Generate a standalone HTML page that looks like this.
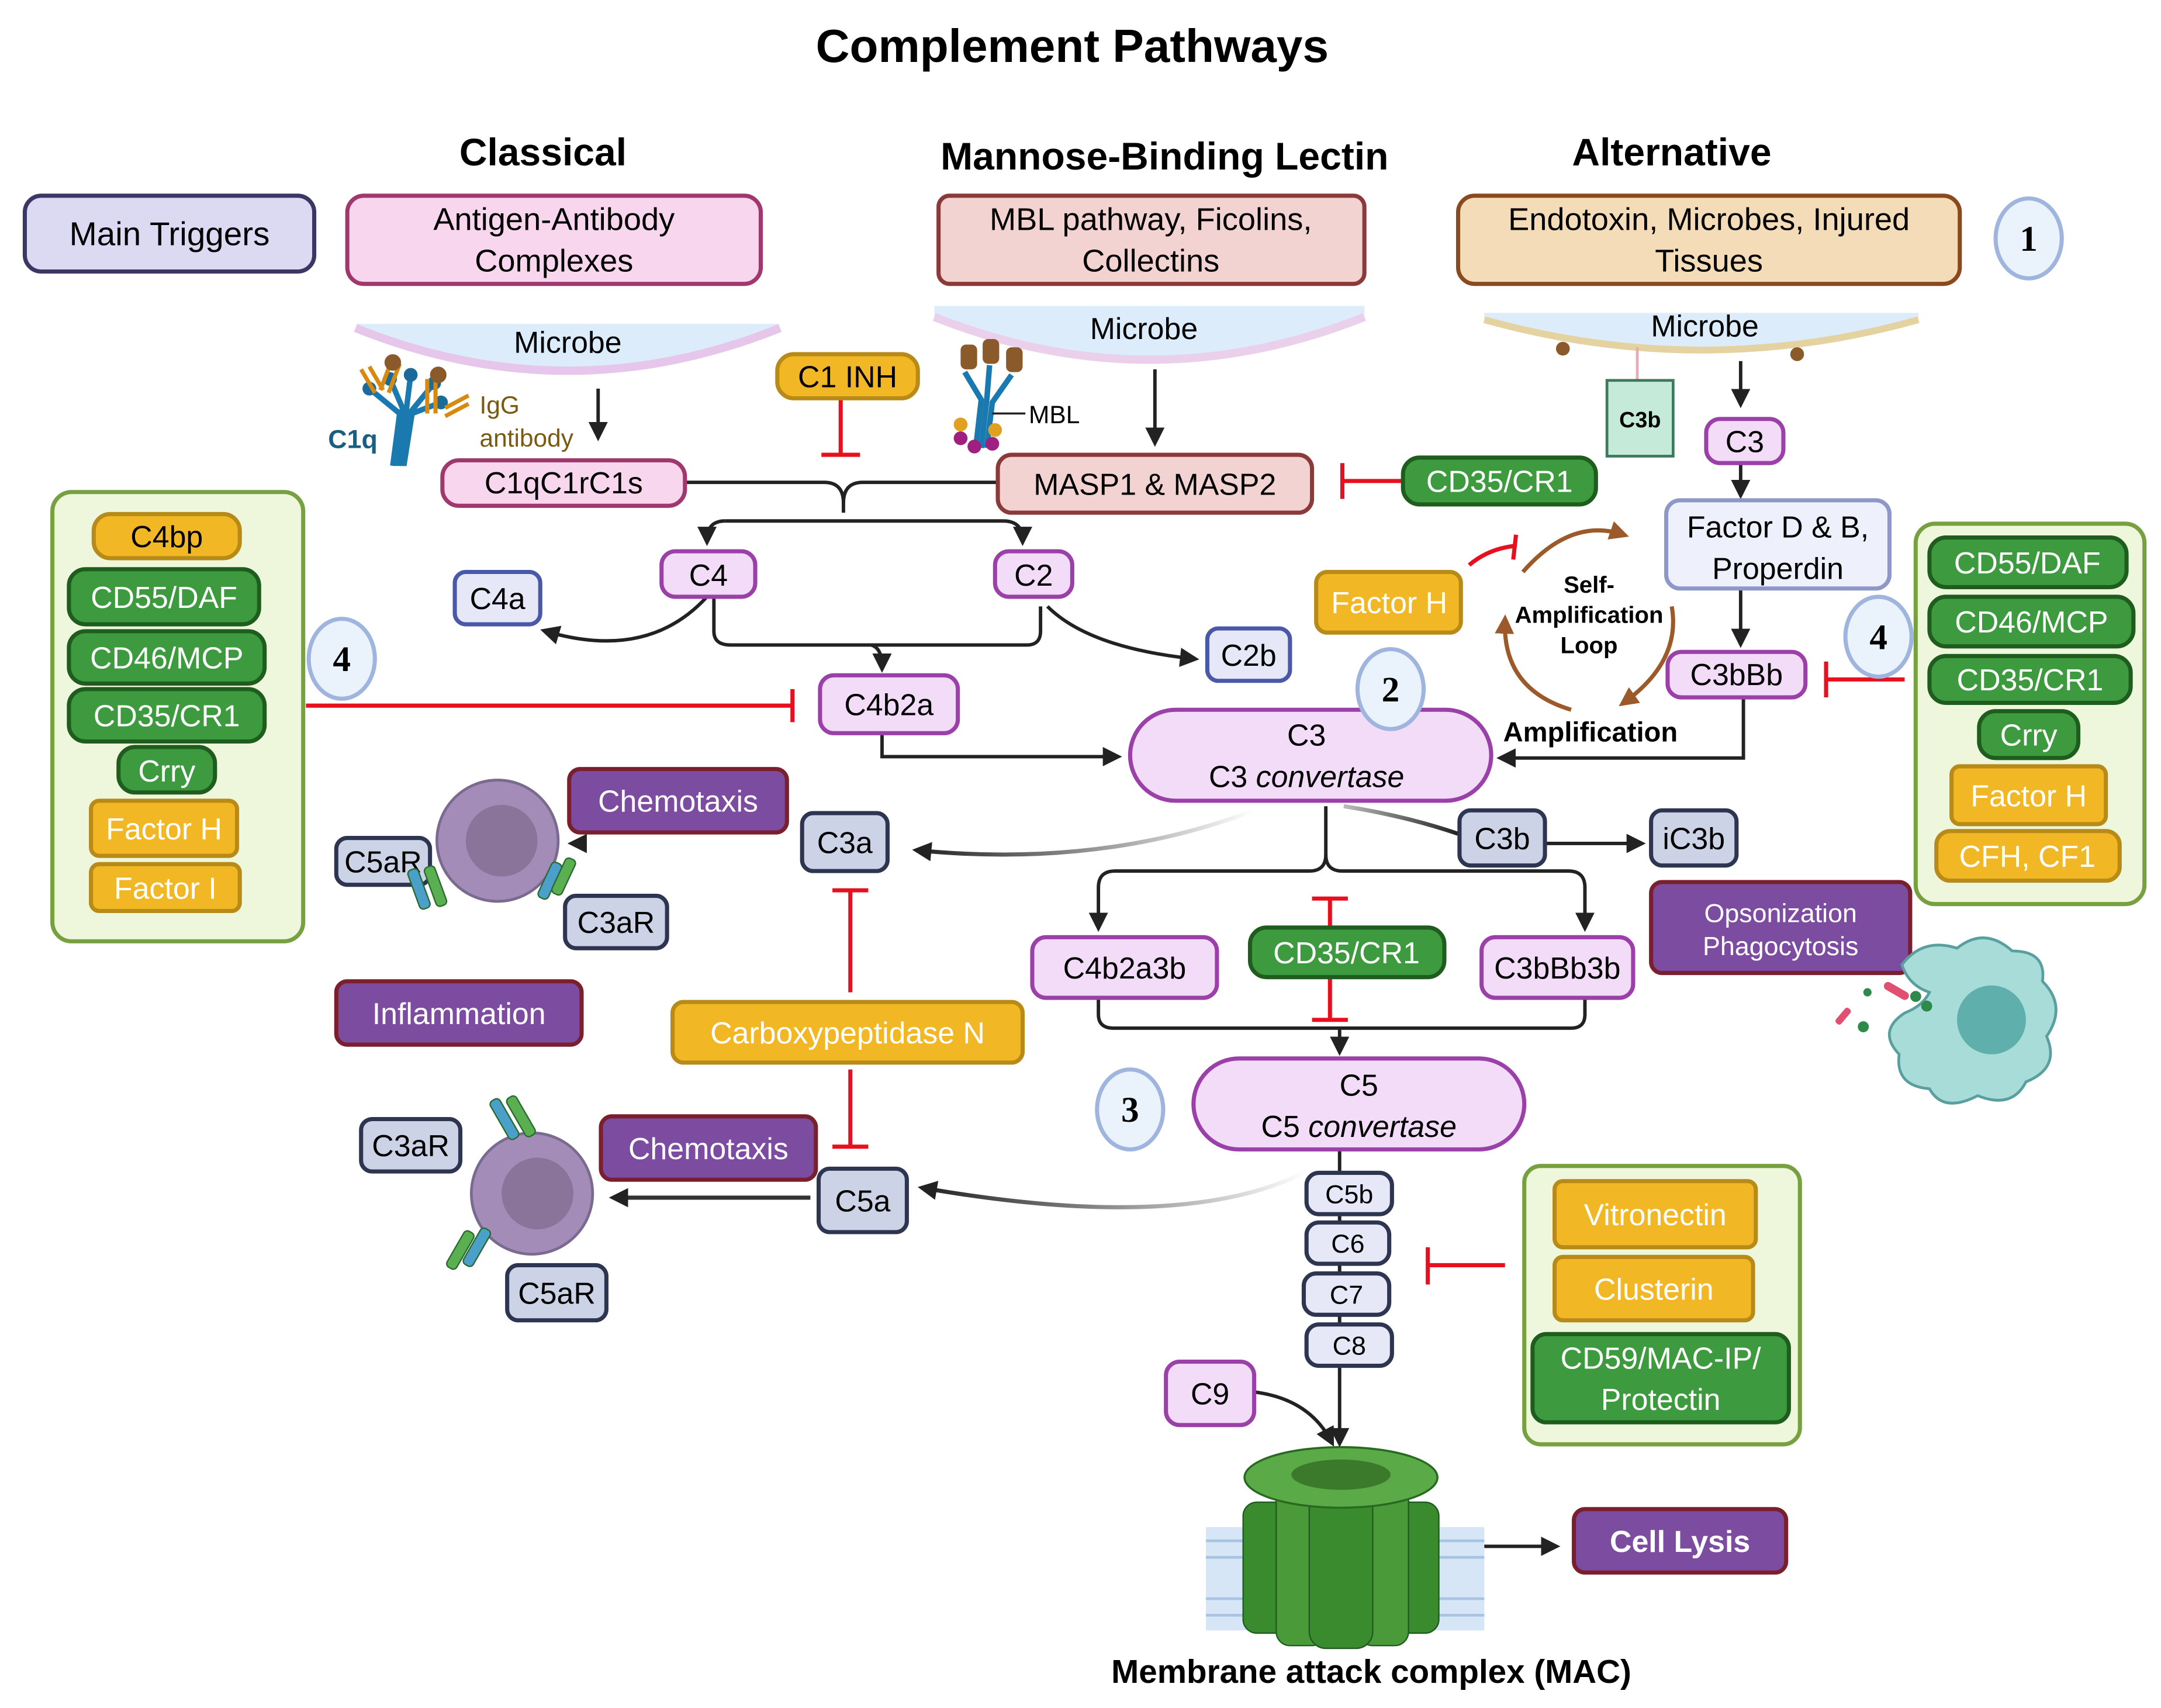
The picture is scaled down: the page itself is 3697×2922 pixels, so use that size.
<!DOCTYPE html>
<html><head><meta charset="utf-8"><style>
html,body{margin:0;padding:0;background:#fff}
svg{display:block}
text{font-family:"Liberation Sans",sans-serif}
</style></head><body>
<svg width="3697" height="2922" viewBox="0 0 1568 1239.3" preserveAspectRatio="none" xmlns="http://www.w3.org/2000/svg">
<defs>
<marker id="ab" viewBox="0 0 10 10" refX="7" refY="5" markerWidth="14" markerHeight="14" orient="auto" markerUnits="userSpaceOnUse"><path d="M0,0 L10,5 L0,10 z" fill="#222"/></marker>
<marker id="abr" viewBox="0 0 10 10" refX="7" refY="5" markerWidth="14" markerHeight="14" orient="auto" markerUnits="userSpaceOnUse"><path d="M0,0 L10,5 L0,10 z" fill="#9c5a2a"/></marker>
<linearGradient id="g1" x1="1" y1="0" x2="0" y2="0"><stop offset="0" stop-color="#fff"/><stop offset="1" stop-color="#222"/></linearGradient>
<linearGradient id="g2" x1="0" y1="0" x2="1" y2="0"><stop offset="0" stop-color="#bbb"/><stop offset="1" stop-color="#222"/></linearGradient>
</defs>
<g font-size="22" text-anchor="middle">
<text x="778" y="45" font-size="34" font-weight="bold">Complement Pathways</text>
<text x="394" y="120" font-size="28" font-weight="bold">Classical</text>
<text x="845" y="123" font-size="28" font-weight="bold">Mannose-Binding Lectin</text>
<text x="1213" y="120" font-size="28" font-weight="bold">Alternative</text>

<rect x="18" y="142" width="210" height="55" rx="12" fill="#dcdaf3" stroke="#3b3764" stroke-width="3"/>
<text x="123" y="178" font-size="24">Main Triggers</text>
<rect x="252" y="142" width="300" height="64" rx="12" fill="#f7d6ee" stroke="#a0386e" stroke-width="3"/>
<text x="402" y="167" font-size="23">Antigen-Antibody</text><text x="402" y="197" font-size="23">Complexes</text>
<rect x="681" y="142" width="309" height="64" rx="8" fill="#f2d3d1" stroke="#8b3a3a" stroke-width="3"/>
<text x="835" y="167" font-size="23">MBL pathway, Ficolins,</text><text x="835" y="197" font-size="23">Collectins</text>
<rect x="1058" y="142" width="364" height="64" rx="12" fill="#f5dcb8" stroke="#8b4a1e" stroke-width="3"/>
<text x="1240" y="167" font-size="23">Endotoxin, Microbes, Injured</text><text x="1240" y="197" font-size="23">Tissues</text>

<path d="M258,235 Q412,300 566,235 Z" fill="#dcecfb"/>
<path d="M258,238 Q412,300 566,238" fill="none" stroke="#e6c6ea" stroke-width="6"/>
<text x="412" y="256">Microbe</text>
<path d="M678,222 L990,222 L990,230 Q834,290 678,230 Z" fill="#dcecfb"/>
<path d="M678,230 Q834,292 990,230" fill="none" stroke="#ead0ea" stroke-width="6"/>
<text x="830" y="246">Microbe</text>
<path d="M1077,227 L1392,227 L1392,232 Q1235,275 1077,232 Z" fill="#dcecfb"/>
<path d="M1077,232 Q1235,276 1392,232" fill="none" stroke="#e4d3a0" stroke-width="5"/>
<circle cx="1134" cy="253" r="5" fill="#8b5a2b"/><circle cx="1304" cy="257" r="5" fill="#8b5a2b"/>
<text x="1237" y="244">Microbe</text>
<line x1="1188" y1="252" x2="1188" y2="276" stroke="#e8aab5" stroke-width="2"/>
<rect x="1166" y="276" width="48" height="55" fill="#c5eada" stroke="#3b7a5a" stroke-width="2"/>
<text x="1190" y="310" font-size="16" font-weight="bold">C3b</text>

<g stroke="#1a7ab0" stroke-width="4" fill="none"><path d="M285,338 L290,300 L268,282"/><path d="M287,338 L292,296 L283,275"/><path d="M289,338 L295,296 L298,272"/><path d="M291,338 L297,300 L315,278"/><path d="M293,338 L299,300 L320,292"/></g>
<g fill="#1a6a9a"><circle cx="268" cy="282" r="5"/><circle cx="283" cy="275" r="5"/><circle cx="298" cy="272" r="5"/><circle cx="315" cy="278" r="5"/><circle cx="320" cy="292" r="5"/></g>
<g stroke="#d88a10" stroke-width="3"><path d="M262,268 L272,285 M268,266 L278,283 M284,262 L276,283 M290,264 L282,285 M310,275 L310,300 M316,275 L316,300 M323,296 L340,287 M323,302 L340,293"/></g>
<circle cx="285" cy="263" r="6" fill="#8b5a2b"/><circle cx="318" cy="272" r="6" fill="#8b5a2b"/>
<text x="256" y="325" font-size="19" font-weight="bold" fill="#1a5f80">C1q</text>
<text x="348" y="300" font-size="18" fill="#7a5a10" text-anchor="start">IgG</text>
<text x="348" y="324" font-size="18" fill="#7a5a10" text-anchor="start">antibody</text>
<g stroke="#1a7ab0" stroke-width="4" fill="none"><path d="M708,325 L712,290 L700,270"/><path d="M712,325 L716,290 L718,265"/><path d="M716,325 L720,292 L734,272"/></g>
<g fill="#8b5a2b"><rect x="697" y="250" width="12" height="18" rx="4"/><rect x="713" y="246" width="12" height="18" rx="4"/><rect x="730" y="252" width="12" height="18" rx="4"/></g>
<g fill="#a02080"><circle cx="697" cy="318" r="5"/><circle cx="707" cy="324" r="5"/><circle cx="720" cy="322" r="5"/></g>
<g fill="#e0a020"><circle cx="697" cy="308" r="5"/><circle cx="722" cy="312" r="5"/></g>
<line x1="720" y1="300" x2="744" y2="300" stroke="#222" stroke-width="1.5"/>
<text x="765" y="307" font-size="18">MBL</text>

<g stroke="#222" stroke-width="2.5" fill="none">
<line x1="434" y1="282" x2="434" y2="316" marker-end="url(#ab)"/>
<line x1="838" y1="268" x2="838" y2="320" marker-end="url(#ab)"/>
<line x1="1263" y1="262" x2="1263" y2="292" marker-end="url(#ab)"/>
<line x1="1263" y1="336" x2="1263" y2="358" marker-end="url(#ab)"/>
<line x1="1263" y1="427" x2="1263" y2="466" marker-end="url(#ab)"/>
<path d="M497,350 L598,350 Q612,350 612,365 L612,372"/>
<path d="M724,350 L626,350 Q612,350 612,365"/>
<path d="M526,378 L728,378" />
<path d="M526,378 Q513,378 513,392" marker-end="url(#ab)"/>
<path d="M728,378 Q742,378 742,392" marker-end="url(#ab)"/>
<path d="M513,433 Q470,480 396,458" marker-end="url(#ab)"/>
<path d="M760,440 Q790,470 866,478" marker-end="url(#ab)"/>
<path d="M518,433 L518,458 Q518,468 530,468 L745,468 Q755,468 755,458 L755,440"/>
<path d="M632,468 Q640,470 640,484" marker-end="url(#ab)"/>
<path d="M640,532 L640,549 L810,549" marker-end="url(#ab)"/>
<path d="M1265,505 L1265,550 L1090,550" marker-end="url(#ab)"/>
<path d="M962,585 L962,620 Q962,632 950,632 L809,632 Q797,632 797,644 L797,672" marker-end="url(#ab)"/>
<path d="M962,620 Q962,632 974,632 L1138,632 Q1150,632 1150,644 L1150,672" marker-end="url(#ab)"/>
<line x1="1121" y1="612" x2="1190" y2="612" marker-end="url(#ab)"/>
<path d="M797,724 L797,736 Q797,746 808,746 L1140,746 Q1150,746 1150,736 L1150,724"/>
<line x1="972" y1="746" x2="972" y2="762" marker-end="url(#ab)"/>
<line x1="972" y1="834" x2="972" y2="1046" marker-end="url(#ab)"/>
<path d="M910,1010 Q950,1015 966,1046" marker-end="url(#ab)"/>
<line x1="1062" y1="1122" x2="1128" y2="1122" marker-end="url(#ab)"/>
</g>
<g fill="none" stroke-width="3">
<path d="M910,588 Q800,630 666,617" stroke="url(#g1)" marker-end="url(#ab)"/>
<path d="M975,585 Q1020,592 1058,605" stroke="url(#g2)"/>
<path d="M575,612 L416,612" stroke="url(#g2)" marker-end="url(#ab)"/>
<path d="M588,869 L446,869" stroke="#333" marker-end="url(#ab)"/>
<path d="M948,850 Q860,895 670,862" stroke="url(#g1)" marker-end="url(#ab)"/>
</g>

<g stroke="#e8101e" stroke-width="3" fill="none">
<line x1="610" y1="289" x2="610" y2="330"/><line x1="596" y1="330" x2="624" y2="330"/>
<line x1="1018" y1="349" x2="974" y2="349"/><line x1="974" y1="336" x2="974" y2="362"/>
<line x1="222" y1="512" x2="575" y2="512"/><line x1="575" y1="500" x2="575" y2="524"/>
<line x1="1382" y1="493" x2="1325" y2="493"/><line x1="1325" y1="480" x2="1325" y2="506"/>
<path d="M1066,410 Q1080,398 1100,396"/><line x1="1100" y1="388" x2="1098" y2="406"/>
<line x1="617" y1="646" x2="617" y2="720"/><line x1="604" y1="646" x2="630" y2="646"/>
<line x1="617" y1="776" x2="617" y2="832"/><line x1="604" y1="832" x2="630" y2="832"/>
<line x1="965" y1="673" x2="965" y2="652"/><line x1="952" y1="652" x2="978" y2="652"/>
<line x1="965" y1="709" x2="965" y2="740"/><line x1="952" y1="740" x2="978" y2="740"/>
<line x1="1092" y1="918" x2="1036" y2="918"/><line x1="1036" y1="905" x2="1036" y2="932"/>
</g>
<g fill="none" stroke="#9c5a2a" stroke-width="3">
<path d="M1105,415 Q1140,375 1178,388" marker-end="url(#abr)"/>
<path d="M1213,440 Q1220,480 1178,510" marker-end="url(#abr)"/>
<path d="M1140,515 Q1090,500 1092,450" marker-end="url(#abr)"/>
</g>
<g font-weight="bold" font-size="17"><text x="1153" y="430">Self-</text><text x="1153" y="452">Amplification</text><text x="1153" y="474">Loop</text></g>
<text x="1154" y="538" font-weight="bold" font-size="20">Amplification</text>

<rect x="38" y="357" width="182" height="326" rx="14" fill="#eef6dc" stroke="#77a040" stroke-width="3"/>
<rect x="1390" y="380" width="166" height="276" rx="14" fill="#eef6dc" stroke="#77a040" stroke-width="3"/>
<rect x="1106" y="846" width="200" height="202" rx="12" fill="#eef6dc" stroke="#77a040" stroke-width="3"/>

<g stroke-width="3">
<rect x="321" y="334" width="176" height="33" rx="12" fill="#f7d6ee" stroke="#a0386e"/>
<rect x="724" y="330" width="228" height="42" rx="10" fill="#f2d3d1" stroke="#8b3a3a"/>
<rect x="564" y="257" width="102" height="32" rx="12" fill="#f2b724" stroke="#b88a18"/>
<rect x="1018" y="332" width="140" height="34" rx="12" fill="#3e9a3e" stroke="#1f5d1f"/>
<rect x="1238" y="304" width="56" height="32" rx="10" fill="#f3dcf7" stroke="#9a40a8"/>
<rect x="1209" y="363" width="162" height="64" rx="10" fill="#eef0fb" stroke="#8d98c8"/>
<rect x="1210" y="473" width="100" height="33" rx="10" fill="#f3dcf7" stroke="#9a40a8"/>
<rect x="955" y="415" width="105" height="44" rx="8" fill="#f2b724" stroke="#b88a18"/>
<rect x="480" y="400" width="68" height="33" rx="10" fill="#f3dcf7" stroke="#9a40a8"/>
<rect x="722" y="400" width="56" height="33" rx="10" fill="#f3dcf7" stroke="#9a40a8"/>
<rect x="330" y="415" width="62" height="38" rx="8" fill="#e6e8f8" stroke="#4a58a8"/>
<rect x="876" y="456" width="60" height="38" rx="8" fill="#e6e8f8" stroke="#4a58a8"/>
<rect x="595" y="490" width="100" height="42" rx="10" fill="#f3dcf7" stroke="#9a40a8"/>
<rect x="820" y="515" width="262" height="66" rx="33" fill="#f3dcf7" stroke="#9a40a8"/>
<rect x="1059" y="588" width="62" height="40" rx="8" fill="#cdd3e6" stroke="#2e3550"/>
<rect x="1198" y="588" width="62" height="40" rx="8" fill="#cdd3e6" stroke="#2e3550"/>
<rect x="582" y="590" width="62" height="42" rx="8" fill="#cdd3e6" stroke="#2e3550"/>
<rect x="413" y="558" width="158" height="46" rx="8" fill="#7b4ca0" stroke="#7a1f2e"/>
<rect x="244" y="608" width="68" height="34" rx="8" fill="#cdd3e6" stroke="#2e3550"/>
<rect x="410" y="650" width="74" height="38" rx="8" fill="#cdd3e6" stroke="#2e3550"/>
<rect x="244" y="712" width="178" height="46" rx="8" fill="#7b4ca0" stroke="#7a1f2e"/>
<rect x="488" y="727" width="254" height="44" rx="8" fill="#f2b724" stroke="#b88a18"/>
<rect x="749" y="680" width="134" height="44" rx="10" fill="#f3dcf7" stroke="#9a40a8"/>
<rect x="907" y="673" width="141" height="36" rx="12" fill="#3e9a3e" stroke="#1f5d1f"/>
<rect x="1075" y="680" width="110" height="44" rx="10" fill="#f3dcf7" stroke="#9a40a8"/>
<rect x="866" y="768" width="240" height="66" rx="33" fill="#f3dcf7" stroke="#9a40a8"/>
<rect x="1198" y="640" width="188" height="66" rx="8" fill="#7b4ca0" stroke="#7a1f2e"/>
<rect x="436" y="810" width="156" height="46" rx="8" fill="#7b4ca0" stroke="#7a1f2e"/>
<rect x="262" y="812" width="72" height="38" rx="8" fill="#cdd3e6" stroke="#2e3550"/>
<rect x="368" y="918" width="72" height="40" rx="8" fill="#cdd3e6" stroke="#2e3550"/>
<rect x="594" y="848" width="64" height="46" rx="8" fill="#cdd3e6" stroke="#2e3550"/>
<rect x="948" y="851" width="62" height="30" rx="9" fill="#e6e8f8" stroke="#2e3550"/>
<rect x="948" y="887" width="60" height="30" rx="9" fill="#e6e8f8" stroke="#2e3550"/>
<rect x="946" y="924" width="62" height="30" rx="9" fill="#e6e8f8" stroke="#2e3550"/>
<rect x="948" y="961" width="62" height="30" rx="9" fill="#e6e8f8" stroke="#2e3550"/>
<rect x="846" y="988" width="64" height="46" rx="10" fill="#f3dcf7" stroke="#9a40a8"/>
<rect x="1128" y="857" width="146" height="48" rx="6" fill="#f2b724" stroke="#b88a18"/>
<rect x="1128" y="912" width="144" height="46" rx="6" fill="#f2b724" stroke="#b88a18"/>
<rect x="1112" y="968" width="186" height="64" rx="10" fill="#3e9a3e" stroke="#1f5d1f"/>
<rect x="1142" y="1095" width="154" height="46" rx="8" fill="#7b4ca0" stroke="#7a1f2e"/>
<rect x="68" y="373" width="106" height="32" rx="12" fill="#f2b724" stroke="#b88a18"/>
<rect x="50" y="413" width="138" height="40" rx="12" fill="#3e9a3e" stroke="#1f5d1f"/>
<rect x="50" y="458" width="142" height="38" rx="12" fill="#3e9a3e" stroke="#1f5d1f"/>
<rect x="50" y="500" width="142" height="38" rx="12" fill="#3e9a3e" stroke="#1f5d1f"/>
<rect x="86" y="542" width="70" height="33" rx="12" fill="#3e9a3e" stroke="#1f5d1f"/>
<rect x="66" y="581" width="106" height="40" rx="6" fill="#f2b724" stroke="#b88a18"/>
<rect x="66" y="627" width="108" height="34" rx="6" fill="#f2b724" stroke="#b88a18"/>
<rect x="1400" y="390" width="143" height="36" rx="12" fill="#3e9a3e" stroke="#1f5d1f"/>
<rect x="1400" y="433" width="148" height="36" rx="12" fill="#3e9a3e" stroke="#1f5d1f"/>
<rect x="1400" y="476" width="146" height="34" rx="12" fill="#3e9a3e" stroke="#1f5d1f"/>
<rect x="1436" y="516" width="72" height="34" rx="12" fill="#3e9a3e" stroke="#1f5d1f"/>
<rect x="1416" y="556" width="112" height="42" rx="6" fill="#f2b724" stroke="#b88a18"/>
<rect x="1405" y="603" width="133" height="36" rx="10" fill="#f2b724" stroke="#b88a18"/>
</g>

<g fill="#eaf2fc" stroke="#9fb5de" stroke-width="3">
<ellipse cx="1472" cy="173" rx="24" ry="29"/><ellipse cx="248" cy="478" rx="24" ry="29"/>
<ellipse cx="1009" cy="500" rx="24" ry="29"/><ellipse cx="1363" cy="462" rx="24" ry="29"/>
<ellipse cx="820" cy="805" rx="24" ry="29"/></g>
<g font-weight="bold" font-size="26">
<text x="1472" y="182" style="font-family:'Liberation Serif',serif">1</text><text x="248" y="487" style="font-family:'Liberation Serif',serif">4</text>
<text x="1009" y="509" style="font-family:'Liberation Serif',serif">2</text><text x="1363" y="471" style="font-family:'Liberation Serif',serif">4</text>
<text x="820" y="814" style="font-family:'Liberation Serif',serif">3</text></g>

<text x="409" y="358">C1qC1rC1s</text>
<text x="838" y="359">MASP1 &amp; MASP2</text>
<text x="615" y="281">C1 INH</text>
<text x="1088" y="357" fill="#fff">CD35/CR1</text>
<text x="1266" y="328">C3</text>
<text x="1290" y="390">Factor D &amp; B,</text><text x="1290" y="420">Properdin</text>
<text x="1260" y="497">C3bBb</text>
<text x="1008" y="445" fill="#fff">Factor H</text>
<text x="514" y="425">C4</text><text x="750" y="425">C2</text>
<text x="361" y="442">C4a</text><text x="906" y="483">C2b</text>
<text x="645" y="519">C4b2a</text>
<text x="948" y="541">C3</text>
<text x="948" y="571">C3 <tspan font-style="italic">convertase</tspan></text>
<text x="1090" y="616">C3b</text><text x="1229" y="616">iC3b</text>
<text x="613" y="619">C3a</text>
<text x="492" y="589" fill="#fff">Chemotaxis</text>
<text x="278" y="633">C5aR</text><text x="447" y="677">C3aR</text>
<text x="333" y="743" fill="#fff">Inflammation</text>
<text x="615" y="757" fill="#fff">Carboxypeptidase N</text>
<text x="816" y="710">C4b2a3b</text>
<text x="977" y="699" fill="#fff">CD35/CR1</text>
<text x="1130" y="710">C3bBb3b</text>
<text x="986" y="795">C5</text>
<text x="986" y="825">C5 <tspan font-style="italic">convertase</tspan></text>
<text x="1292" y="669" fill="#fff" font-size="19">Opsonization</text>
<text x="1292" y="693" fill="#fff" font-size="19">Phagocytosis</text>
<text x="514" y="841" fill="#fff">Chemotaxis</text>
<text x="298" y="839">C3aR</text><text x="404" y="946">C5aR</text>
<text x="626" y="879">C5a</text>
<g font-size="19"><text x="979" y="873">C5b</text><text x="978" y="909">C6</text><text x="977" y="946">C7</text><text x="979" y="983">C8</text></g>
<text x="878" y="1019">C9</text>
<text x="1201" y="889" fill="#fff">Vitronectin</text>
<text x="1200" y="943" fill="#fff">Clusterin</text>
<text x="1205" y="993" fill="#fff">CD59/MAC-IP/</text><text x="1205" y="1023" fill="#fff">Protectin</text>
<text x="1219" y="1126" fill="#fff" font-weight="bold">Cell Lysis</text>
<text x="121" y="397">C4bp</text>
<text x="119" y="441" fill="#fff">CD55/DAF</text>
<text x="121" y="485" fill="#fff">CD46/MCP</text>
<text x="121" y="527" fill="#fff">CD35/CR1</text>
<text x="121" y="567" fill="#fff">Crry</text>
<text x="119" y="609" fill="#fff">Factor H</text>
<text x="120" y="652" fill="#fff">Factor I</text>
<text x="1471" y="416" fill="#fff">CD55/DAF</text>
<text x="1474" y="459" fill="#fff">CD46/MCP</text>
<text x="1473" y="501" fill="#fff">CD35/CR1</text>
<text x="1472" y="541" fill="#fff">Crry</text>
<text x="1472" y="585" fill="#fff">Factor H</text>
<text x="1471" y="629" fill="#fff">CFH, CF1</text>

<circle cx="361" cy="610" r="44" fill="#a48cb8" stroke="#7a6a90" stroke-width="2"/>
<circle cx="364" cy="610" r="26" fill="#8a7499"/>
<g fill="#4aa0c8" stroke="#2a6a30" stroke-width="1"><rect x="300" y="630" width="8" height="30" rx="3" transform="rotate(-20 304 645)"/><rect x="312" y="628" width="8" height="30" rx="3" fill="#5ab050" transform="rotate(-20 316 643)"/><rect x="395" y="625" width="8" height="28" rx="3" transform="rotate(25 399 639)"/><rect x="405" y="622" width="8" height="28" rx="3" fill="#5ab050" transform="rotate(25 409 636)"/></g>
<circle cx="386" cy="866" r="44" fill="#a48cb8" stroke="#7a6a90" stroke-width="2"/>
<circle cx="390" cy="866" r="26" fill="#8a7499"/>
<g fill="#4aa0c8" stroke="#2a6a30" stroke-width="1"><rect x="362" y="796" width="8" height="32" rx="3" transform="rotate(-30 366 812)"/><rect x="374" y="794" width="8" height="32" rx="3" fill="#5ab050" transform="rotate(-30 378 810)"/><rect x="330" y="892" width="8" height="30" rx="3" fill="#5ab050" transform="rotate(30 334 907)"/><rect x="342" y="890" width="8" height="30" rx="3" transform="rotate(30 346 905)"/></g>
<path d="M1380,700 Q1395,680 1420,688 Q1440,672 1460,690 Q1485,690 1482,712 Q1500,730 1485,752 Q1495,775 1470,785 Q1460,805 1435,795 Q1410,808 1400,790 Q1375,788 1378,765 Q1362,748 1382,735 Q1395,730 1400,720 Q1385,715 1380,700 Z" fill="#a8dcd8" stroke="#5a9fa0" stroke-width="2"/>
<circle cx="1445" cy="740" r="25" fill="#5fb0ac"/>
<g fill="#2e8a4a"><circle cx="1390" cy="723" r="4"/><circle cx="1398" cy="730" r="4"/><circle cx="1355" cy="720" r="3"/><circle cx="1352" cy="745" r="4"/></g>
<rect x="1366" y="716" width="20" height="6" rx="3" fill="#e05070" transform="rotate(30 1376 719)"/>
<rect x="1330" y="735" width="14" height="5" rx="2" fill="#e05070" transform="rotate(-50 1337 737)"/>

<rect x="875" y="1108" width="202" height="75" fill="#d6e6f6"/>
<g stroke="#a8c4e2" stroke-width="2"><line x1="875" y1="1118" x2="1077" y2="1118"/><line x1="875" y1="1130" x2="1077" y2="1130"/><line x1="875" y1="1160" x2="1077" y2="1160"/><line x1="875" y1="1172" x2="1077" y2="1172"/></g>
<g stroke="#1f5d1f" stroke-width="1">
<rect x="902" y="1090" width="34" height="95" rx="10" fill="#3a8a2e"/>
<rect x="1010" y="1090" width="34" height="95" rx="10" fill="#3a8a2e"/>
<rect x="926" y="1072" width="36" height="122" rx="10" fill="#4a9a3a"/>
<rect x="986" y="1072" width="36" height="122" rx="10" fill="#4a9a3a"/>
<rect x="950" y="1062" width="46" height="134" rx="12" fill="#3a8a2e"/>
</g>
<ellipse cx="973" cy="1072" rx="70" ry="22" fill="#5aaa48" stroke="#2a6a20" stroke-width="1.5"/>
<ellipse cx="973" cy="1070" rx="36" ry="11" fill="#3a7a2a"/>
<text x="995" y="1221" font-size="24" font-weight="bold">Membrane attack complex (MAC)</text>
</g>
</svg>
</body></html>
